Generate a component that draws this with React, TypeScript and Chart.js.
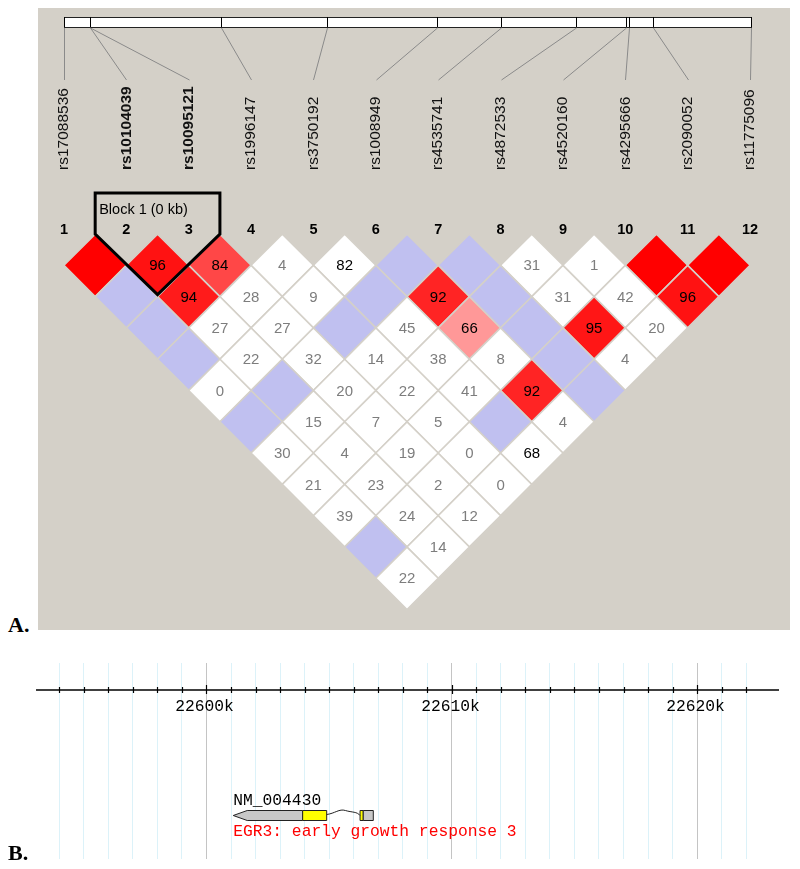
import React, { useEffect, useRef } from 'react';
import { Chart, registerables } from 'chart.js';

Chart.register(...registerables);

// ---------------- Panel A: LD plot data ----------------
const SNP_NAMES = [
  'rs17088536', 'rs10104039', 'rs10095121', 'rs1996147', 'rs3750192', 'rs1008949',
  'rs4535741', 'rs4872533', 'rs4520160', 'rs4295666', 'rs2090052', 'rs11775096',
];
const SNP_BOLD = [false, true, true, false, false, false, false, false, false, false, false, false];
// physical position along the region bar (kb from first SNP)
const SNP_POS_KB = [0, 1.13, 1.14, 6.86, 11.48, 16.29, 19.08, 22.36, 24.54, 24.67, 25.72, 30.0];
const REGION_KB = [0, 30];

// D' x 100, row k holds pairs (i, i+k); 100 = D'=1 (no number shown)
const DPRIME_ROWS: number[][] = [
  [100, 96, 84, 4, 82, 100, 100, 31, 1, 100, 100],
  [100, 94, 28, 9, 100, 92, 100, 31, 42, 96],
  [100, 27, 27, 100, 45, 66, 100, 95, 20],
  [100, 22, 32, 14, 38, 8, 100, 4],
  [0, 100, 20, 22, 41, 92, 100],
  [100, 15, 7, 5, 100, 4],
  [30, 4, 19, 0, 68],
  [21, 23, 2, 0],
  [39, 24, 12],
  [100, 14],
  [22],
];
// LOD >= 2 flags (1 = strong)
const LOD_SIG_ROWS: number[][] = [
  [1, 1, 1, 0, 0, 0, 0, 0, 0, 1, 1],
  [0, 1, 0, 0, 0, 1, 0, 0, 0, 1],
  [0, 0, 0, 0, 0, 1, 0, 1, 0],
  [0, 0, 0, 0, 0, 0, 0, 0],
  [0, 0, 0, 0, 0, 1, 0],
  [0, 0, 0, 0, 0, 0],
  [0, 0, 0, 0, 0],
  [0, 0, 0, 0],
  [0, 0, 0],
  [0, 0],
  [0],
];
const DARK_LABEL_PAIRS = [[5, 6], [5, 12]];
const BLOCK_SNPS = [2, 3];
const BLOCK_LABEL = 'Block 1 (0 kb)';

// ---------------- Panel B: genome track data ----------------
const RULER_KB = [22593.05, 22623.34];
const MAJOR_EVERY_KB = 10;
const GENE_ID = 'NM_004430';
const GENE_LABEL = 'EGR3: early growth response 3';
const GENE_BLOCK_START = [22601.09, 22603.92, 22606.26, 22606.39];
const GENE_BLOCK_END = [22603.92, 22604.9, 22606.39, 22606.8];
const GENE_BLOCK_CODING = [false, true, true, false];
const GENE_INTRON = [22604.9, 22606.26];

// ---------------- styles ----------------
const BG = '#d4d0c8';
const SANS = '"Liberation Sans", Arial, sans-serif';
const MONO = '"Liberation Mono", "DejaVu Sans Mono", monospace';

function cellColor(d: number, sig: number) {
  if (sig) {
    if (d >= 100) return 'rgb(255,0,0)';
    const g = Math.round((255 - 32) * 2 * (1 - d / 100));
    return `rgb(255,${g},${g})`;
  }
  return d >= 100 ? 'rgb(192,192,240)' : '#ffffff';
}

function makeLD(canvas: HTMLCanvasElement) {
  const points: { x: number; y: number }[] = [];
  const fills: string[] = [];
  const texts: string[] = [];
  const textColors: string[] = [];
  DPRIME_ROWS.forEach((row, r) => {
    const k = r + 1;
    row.forEach((d, idx) => {
      const i = idx + 1;
      const j = i + k;
      const sig = LOD_SIG_ROWS[r][idx];
      points.push({ x: (i + j) / 2, y: k });
      fills.push(cellColor(d, sig));
      texts.push(d >= 100 ? '' : String(d));
      const dark = sig || DARK_LABEL_PAIRS.some((p) => p[0] === i && p[1] === j);
      textColors.push(dark ? '#000' : '#7d7d7d');
    });
  });

  const halfPitch = (chart: any) => {
    const s = chart.scales.x;
    return Math.abs(s.getPixelForValue(1) - s.getPixelForValue(0.5));
  };

  const ldPlugin = {
    id: 'ldDecor',
    afterDatasetsDraw(chart: any) {
      const ctx = chart.ctx as CanvasRenderingContext2D;
      const xs = chart.scales.x;
      const ys = chart.scales.y;
      const ps = chart.scales.xPhys;
      const y0 = ys.getPixelForValue(0);
      ctx.save();

      // cell numbers
      const meta = chart.getDatasetMeta(0);
      ctx.font = `15px ${SANS}`;
      ctx.textAlign = 'center';
      ctx.textBaseline = 'middle';
      meta.data.forEach((el: any, n: number) => {
        if (!texts[n]) return;
        ctx.fillStyle = textColors[n];
        ctx.fillText(texts[n], el.x, el.y + 1);
      });

      // region bar
      const barTop = y0 - 217;
      const barBot = y0 - 207;
      const bx0 = ps.getPixelForValue(REGION_KB[0]);
      const bx1 = ps.getPixelForValue(REGION_KB[1]);
      ctx.fillStyle = '#fff';
      ctx.fillRect(bx0, barTop, bx1 - bx0, barBot - barTop);
      ctx.strokeStyle = '#222';
      ctx.lineWidth = 1;
      ctx.strokeRect(Math.round(bx0) + 0.5, Math.round(barTop) + 0.5, Math.round(bx1 - bx0), Math.round(barBot - barTop));

      // ticks, connectors, labels
      SNP_NAMES.forEach((name, n) => {
        const tx = Math.round(ps.getPixelForValue(SNP_POS_KB[n])) + 0.5;
        const lx = xs.getPixelForValue(n + 1);
        ctx.strokeStyle = '#000';
        ctx.beginPath();
        ctx.moveTo(tx, barTop);
        ctx.lineTo(tx, barBot);
        ctx.stroke();
        ctx.strokeStyle = '#8a8a8a';
        ctx.beginPath();
        ctx.moveTo(tx, barBot + 1);
        ctx.lineTo(Math.round(lx) + 0.5, y0 - 154);
        ctx.stroke();

        ctx.save();
        ctx.translate(lx, y0 - 64);
        ctx.rotate(-Math.PI / 2);
        ctx.font = `${SNP_BOLD[n] ? 'bold ' : ''}15.5px ${SANS}`;
        ctx.fillStyle = '#111';
        ctx.textAlign = 'left';
        ctx.textBaseline = 'middle';
        ctx.fillText(name, 0, 0);
        ctx.restore();

        ctx.font = `bold 14.5px ${SANS}`;
        ctx.fillStyle = '#000';
        ctx.textAlign = 'center';
        ctx.textBaseline = 'alphabetic';
        ctx.fillText(String(n + 1), lx, y0);
      });

      // haplotype block outline
      const a = BLOCK_SNPS[0];
      const b = BLOCK_SNPS[1];
      const left = xs.getPixelForValue(a - 0.5);
      const right = xs.getPixelForValue(b + 0.5);
      const apexX = xs.getPixelForValue((a + b) / 2);
      const apexY = ys.getPixelForValue(b - a + 1) - 2;
      const top = y0 - 41;
      ctx.strokeStyle = '#000';
      ctx.lineWidth = 3;
      ctx.lineJoin = 'miter';
      ctx.beginPath();
      ctx.moveTo(left, top);
      ctx.lineTo(right, top);
      ctx.lineTo(right, y0);
      ctx.lineTo(apexX, apexY);
      ctx.lineTo(left, y0);
      ctx.closePath();
      ctx.stroke();
      ctx.font = `14.5px ${SANS}`;
      ctx.fillStyle = '#000';
      ctx.textAlign = 'left';
      ctx.textBaseline = 'alphabetic';
      ctx.fillText(BLOCK_LABEL, left + 4, y0 - 20);

      ctx.restore();
    },
  };

  return new Chart(canvas, {
    type: 'scatter',
    data: {
      datasets: [
        {
          data: points,
          pointStyle: 'rectRot',
          pointRadius: (c: any) => halfPitch(c.chart),
          pointHoverRadius: (c: any) => halfPitch(c.chart),
          pointBackgroundColor: fills,
          pointBorderColor: BG,
          pointBorderWidth: 1.5,
          pointHoverBorderWidth: 1.5,
          showLine: false,
        } as any,
      ],
    },
    options: {
      responsive: false,
      animation: false,
      events: [],
      layout: { padding: 0 },
      plugins: { legend: { display: false }, tooltip: { enabled: false } },
      scales: {
        x: { type: 'linear', min: 0.5831, max: 12.641, display: false },
        y: { type: 'linear', min: -7.2204, max: 12.652, reverse: true, display: false },
        xPhys: { type: 'linear', axis: 'x', position: 'top', min: -1.1354, max: 31.703, display: false },
      } as any,
    },
    plugins: [ldPlugin],
  });
}

function makeTrack(canvas: HTMLCanvasElement) {
  const isInt = (v: number) => Math.abs(v - Math.round(v)) < 1e-6;
  const inRuler = (v: number) => v >= RULER_KB[0] && v <= RULER_KB[1];

  const trackPlugin = {
    id: 'trackDecor',
    afterDraw(chart: any) {
      const ctx = chart.ctx as CanvasRenderingContext2D;
      const xs = chart.scales.x;
      const top = chart.chartArea.top;
      ctx.save();
      // ruler
      const yA = top + 27;
      ctx.strokeStyle = '#000';
      ctx.lineWidth = 1.5;
      ctx.beginPath();
      ctx.moveTo(xs.getPixelForValue(RULER_KB[0]), yA);
      ctx.lineTo(xs.getPixelForValue(RULER_KB[1]), yA);
      ctx.stroke();
      ctx.lineWidth = 1.2;
      ctx.font = `16.3px ${MONO}`;
      ctx.fillStyle = '#000';
      ctx.textAlign = 'center';
      ctx.textBaseline = 'alphabetic';
      xs.ticks.forEach((t: any) => {
        const v = t.value;
        if (!isInt(v) || !inRuler(v)) return;
        const x = Math.round(xs.getPixelForValue(v)) + 0.5;
        const major = Math.round(v) % MAJOR_EVERY_KB === 0;
        ctx.beginPath();
        ctx.moveTo(x, yA - (major ? 5 : 3));
        ctx.lineTo(x, yA + (major ? 4 : 3));
        ctx.stroke();
        if (major) ctx.fillText(`${Math.round(v)}k`, x - 2, top + 48);
      });

      // gene model
      const gy0 = top + 147.5;
      const gy1 = top + 157.5;
      const gm = (gy0 + gy1) / 2;
      ctx.lineWidth = 1;
      ctx.strokeStyle = '#222';
      GENE_BLOCK_START.forEach((s, n) => {
        const x0 = xs.getPixelForValue(s);
        const x1 = xs.getPixelForValue(GENE_BLOCK_END[n]);
        ctx.fillStyle = GENE_BLOCK_CODING[n] ? '#ffff00' : '#c8c8c8';
        ctx.beginPath();
        if (n === 0) {
          ctx.moveTo(x0, gm);
          ctx.lineTo(x0 + 14, gy0);
          ctx.lineTo(x1, gy0);
          ctx.lineTo(x1, gy1);
          ctx.lineTo(x0 + 14, gy1);
          ctx.closePath();
        } else {
          ctx.rect(x0, gy0, x1 - x0, gy1 - gy0);
        }
        ctx.fill();
        ctx.stroke();
      });
      const ix0 = xs.getPixelForValue(GENE_INTRON[0]);
      const ix1 = xs.getPixelForValue(GENE_INTRON[1]);
      ctx.beginPath();
      ctx.moveTo(ix0, gm - 1);
      ctx.bezierCurveTo(ix0 + 8, gm - 2, (ix0 + ix1) / 2 - 4, gm - 7, (ix0 + ix1) / 2 + 2, gm - 5);
      ctx.bezierCurveTo(ix1 - 8, gm - 3, ix1 - 3, gm - 4, ix1, gm);
      ctx.stroke();

      const gx = xs.getPixelForValue(GENE_BLOCK_START[0]);
      ctx.font = `16.3px ${MONO}`;
      ctx.textAlign = 'left';
      ctx.fillStyle = '#000';
      ctx.fillText(GENE_ID, gx, top + 142);
      ctx.fillStyle = '#ff0000';
      ctx.fillText(GENE_LABEL, gx, top + 173);
      ctx.restore();
    },
  };

  return new Chart(canvas, {
    type: 'scatter',
    data: { datasets: [] },
    options: {
      responsive: false,
      animation: false,
      events: [],
      layout: { padding: 0 },
      plugins: { legend: { display: false }, tooltip: { enabled: false } },
      scales: {
        x: {
          type: 'linear',
          min: 22591.908,
          max: 22623.869,
          ticks: { display: false, stepSize: 1 },
          grid: {
            drawTicks: false,
            lineWidth: 1,
            color: (c: any) => {
              const v = c.tick ? c.tick.value : NaN;
              if (!isInt(v) || !inRuler(v)) return 'rgba(0,0,0,0)';
              return Math.round(v) % MAJOR_EVERY_KB === 0 ? '#c4c4c4' : '#dcf2f9';
            },
          },
          border: { display: false },
        },
        y: { type: 'linear', min: 0, max: 1, display: false },
      } as any,
    },
    plugins: [trackPlugin],
  });
}

export default function App() {
  const aRef = useRef<HTMLCanvasElement>(null);
  const bRef = useRef<HTMLCanvasElement>(null);
  useEffect(() => {
    const a = makeLD(aRef.current as HTMLCanvasElement);
    const b = makeTrack(bRef.current as HTMLCanvasElement);
    return () => {
      a.destroy();
      b.destroy();
    };
  }, []);
  const labelStyle: React.CSSProperties = {
    position: 'absolute',
    left: 0,
    font: 'bold 22px/22px "Liberation Serif", "Times New Roman", serif',
    color: '#000',
  };
  return (
    <div style={{ position: 'relative', width: 784, height: 853 }}>
      <canvas
        ref={aRef}
        width={752}
        height={622}
        style={{ position: 'absolute', left: 30, top: 0, width: 752, height: 622, background: BG }}
      />
      <canvas
        ref={bRef}
        width={784}
        height={196}
        style={{ position: 'absolute', left: 0, top: 655, width: 784, height: 196 }}
      />
      <div style={{ ...labelStyle, top: 605.6 }}>A.</div>
      <div style={{ ...labelStyle, top: 833.6 }}>B.</div>
    </div>
  );
}
